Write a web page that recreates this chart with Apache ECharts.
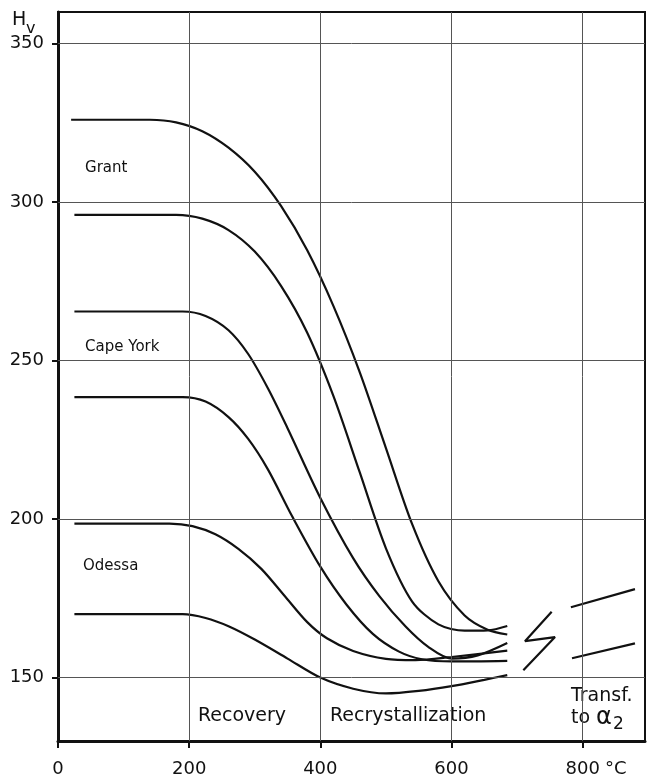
<!DOCTYPE html>
<html><head><meta charset="utf-8">
<script src="https://cdn.jsdelivr.net/npm/echarts@6/dist/echarts.min.js"></script>
<style>html,body{margin:0;padding:0;background:#fff}#c{width:648px;height:778px}</style>
</head><body><div id="c"></div>
<script>
// Axis ticks
const xTicks = [0, 200, 400, 600, 800];
const yTicks = [150, 200, 250, 300, 350];
const xGrid = [200, 400, 600, 800];

// Hardness curves: [temperature °C, Hv]
const grantUpper = [[20,326],[140,326],[180,325.2],[220,322.4],[260,317.2],[300,309.6],[340,298.8],[380,284.8],[420,267.2],[460,246.4],[500,222.4],[540,198.4],[580,180.4],[620,169.6],[655,165.1],[685,163.6]];
const grantLower = [[25,296],[180,296],[220,294.8],[260,291.2],[300,284.4],[340,273.6],[380,258.8],[420,238.8],[460,214.8],[500,190.8],[540,174],[580,166.8],[620,164.8],[655,164.9],[685,166.3]];
const capeUpper  = [[25,265.5],[190,265.5],[225,264.1],[260,259.6],[290,252.1],[320,241.3],[350,228.7],[400,206.7],[450,187.7],[490,175.7],[530,166.1],[565,159.6],[600,156],[640,157],[685,160.9]];
const capeLower  = [[25,238.5],[190,238.5],[225,237.1],[260,232.2],[290,225.3],[320,215.7],[357,200.9],[400,185],[440,173],[480,163.8],[520,158.2],[555,155.8],[600,155.1],[685,155.3]];
const odessaUpper= [[25,198.6],[170,198.6],[205,197.8],[240,195.2],[275,190.6],[310,184.3],[345,175.9],[380,167.5],[410,162.4],[450,158.4],[500,155.9],[545,155.5],[600,156.5],[685,158.5]];
const odessaLower= [[25,170],[190,170],[225,168.8],[260,166.2],[300,162],[350,156],[400,150],[450,146.5],[500,145],[550,145.8],[600,147.3],[650,149.3],[685,150.8]];

// Axis break zigzag and α2 lines
const breakMark = [[752.7,170.8],[712,161.5],[757.8,162.8],[709.5,152.3]];
const alphaUpper = [[782,172.2],[879.7,177.9]];
const alphaLower = [[783.7,156.1],[879.7,160.8]];

// Text annotations: [x, y, text]
const curveLabels = [[41.2,310.9,'Grant'],[41.2,254.3,'Cape York'],[38.1,185.1,'Odessa']];
const regionLabels = [[213.4,137.9,'Recovery'],[414.7,137.9,'Recrystallization'],[782.1,144.2,'Transf.']];
const alphaLabel = [[782.1,137.2,'to']];

const FONT = 'DejaVu Sans';
const chart = echarts.init(document.getElementById('c'), null, {renderer:'canvas'});

function curve(data){
  return {type:'line', data:data, showSymbol:false, smooth:0.3, z:3,
    lineStyle:{color:'#111', width:2.2}, silent:true};
}
function seg(data){
  return {type:'line', data:data, showSymbol:false, smooth:false, z:3,
    lineStyle:{color:'#111', width:2.2}, silent:true};
}
function labels(data, fontSize){
  return {type:'scatter', symbolSize:0, z:4, silent:true, itemStyle:{opacity:1},
    data: data.map(d=>({value:[d[0],d[1]], name:d[2]})),
    label:{show:true, position:'right', distance:0, formatter:p=>p.name, fontFamily:FONT, fontSize:fontSize, color:'#111', opacity:1}};
}

const option = {
  animation:false,
  backgroundColor:'#fff',
  grid:{left:58, right:3, top:12, bottom:35, show:true, borderColor:'#111', borderWidth:2, backgroundColor:'transparent'},
  xAxis:{type:'value', min:0, max:895,
    axisLine:{show:true, lineStyle:{color:'#111', width:3}},
    axisTick:{show:true, customValues:xTicks, length:7, lineStyle:{color:'#111', width:2}},
    axisLabel:{customValues:xTicks, margin:19, fontFamily:FONT, fontSize:18, color:'#111'},
    splitLine:{show:false}},
  yAxis:{type:'value', min:130, max:360,
    axisLine:{show:true, lineStyle:{color:'#111', width:3}},
    axisTick:{show:true, customValues:yTicks, length:6, lineStyle:{color:'#111', width:2}},
    axisLabel:{customValues:yTicks, margin:14, fontFamily:FONT, fontSize:18, color:'#111'},
    splitLine:{show:false}},
  graphic:[
    {type:'text', left:12, top:11, style:{text:'H', font:'19px "DejaVu Sans"', fill:'#111'}},
    {type:'text', left:26, top:21, style:{text:'v', font:'16px "DejaVu Sans"', fill:'#111'}},
    {type:'text', left:605, top:760, style:{text:'°C', font:'18px "DejaVu Sans"', fill:'#111'}}
  ],
  series:[
    {type:'line', data:[], z:1, silent:true,
      markLine:{silent:true, symbol:'none', label:{show:false},
        lineStyle:{color:'#555', width:1, type:'solid'},
        data: yTicks.map(v=>({yAxis:v})).concat(xGrid.map(v=>({xAxis:v})))}},
    curve(grantUpper), curve(grantLower), curve(capeUpper), curve(capeLower), curve(odessaUpper), curve(odessaLower),
    seg(breakMark), seg(alphaUpper), seg(alphaLower),
    labels(curveLabels, 15),
    labels(regionLabels, 19),
    {type:'scatter', symbolSize:0, z:4, silent:true, itemStyle:{opacity:1},
      data: alphaLabel.map(d=>({value:[d[0],d[1]], name:d[2]})),
      label:{show:true, position:'right', distance:0, formatter:p=>'{t|'+p.name+' }{a|α}{s|2}',
        rich:{t:{fontFamily:FONT, fontSize:19, color:'#111'},
              a:{fontFamily:FONT, fontSize:24, color:'#111'},
              s:{fontFamily:FONT, fontSize:17, color:'#111', padding:[12,0,0,1]}}}}
  ]
};
chart.setOption(option);
</script>
</body></html>
